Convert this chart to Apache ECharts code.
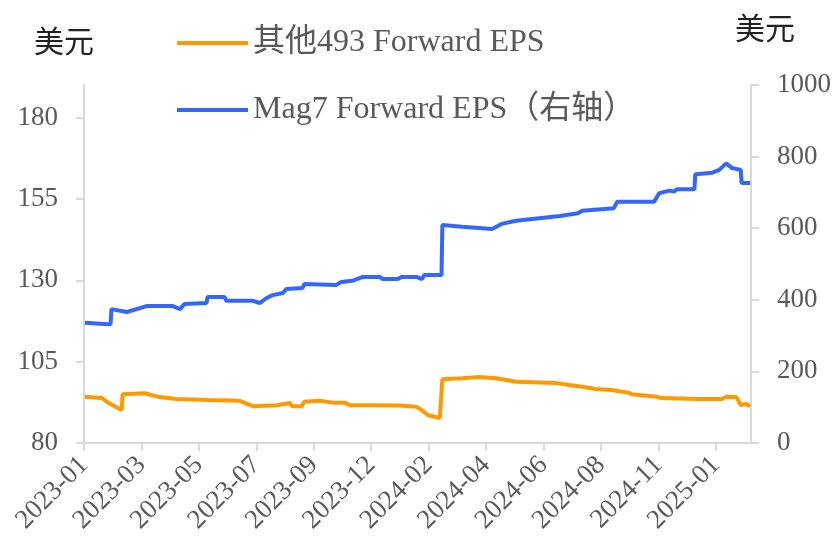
<!DOCTYPE html>
<html>
    <head lang="en"><meta charset="utf-8">
        <title>Forward EPS</title>
        <style>
            html, body { margin: 0; padding: 0; background: #fff; }
            #main { width: 835px; height: 542px; }
        </style>
    </head>
    <body>
        <div id="main"></div>
    </body>
    <script type="text/javascript" src="https://cdn.jsdelivr.net/npm/echarts@6/dist/echarts.min.js"></script>
    <script>
        // 其他493 (左轴)
        var otherDates = ['2023-01-02','2023-01-22','2023-01-28','2023-02-06','2023-02-14','2023-02-15','2023-03-13','2023-03-30',
            '2023-04-19','2023-05-27','2023-07-01','2023-07-17','2023-08-14','2023-08-29','2023-09-01','2023-09-12','2023-09-15',
            '2023-10-03','2023-10-18','2023-11-01','2023-11-07','2023-12-03','2024-01-04','2024-01-16','2024-01-24','2024-01-30',
            '2024-02-06','2024-02-20','2024-02-22','2024-02-23','2024-03-17','2024-04-06','2024-04-26','2024-05-19','2024-07-05',
            '2024-07-20','2024-08-04','2024-08-20','2024-09-07','2024-09-28','2024-10-01','2024-10-30','2024-11-05','2024-12-18',
            '2025-01-14','2025-01-19','2025-01-31','2025-02-05','2025-02-11','2025-02-16'];
        var otherEps = [94.2,93.8,92.6,91.3,90.1,95.0,95.3,94.1,
            93.5,93.2,93.0,91.3,91.6,92.3,91.3,91.3,92.7,
            93.0,92.4,92.4,91.6,91.6,91.5,91.3,91.1,90.1,
            88.6,87.7,87.5,99.6,99.9,100.3,99.9,98.8,98.4,
            97.8,97.3,96.6,96.3,95.4,95.0,94.2,93.8,93.5,
            93.5,94.2,94.1,91.7,92.0,91.3];

        // Mag7 (右轴)
        var magDates = ['2023-01-02','2023-01-29','2023-02-01','2023-02-02','2023-02-20','2023-03-16','2023-04-14','2023-04-23',
            '2023-04-28','2023-05-24','2023-05-25','2023-06-14','2023-06-16','2023-07-17','2023-07-25','2023-08-02','2023-08-09',
            '2023-08-21','2023-08-25','2023-09-13','2023-09-15','2023-10-22','2023-10-28','2023-11-10','2023-11-22','2023-12-12',
            '2023-12-15','2024-01-02','2024-01-07','2024-01-24','2024-01-30','2024-02-02','2024-02-22','2024-02-23','2024-03-17',
            '2024-04-21','2024-05-02','2024-05-19','2024-06-15','2024-07-09','2024-07-30','2024-08-04','2024-09-10','2024-09-14',
            '2024-10-27','2024-11-02','2024-11-14','2024-11-19','2024-11-23','2024-12-13','2024-12-14','2025-01-03','2025-01-11',
            '2025-01-19','2025-01-26','2025-02-05','2025-02-06','2025-02-16'];
        var magEps = [336,332,332,374,366,383,383,374,
            388,391,408,408,397,397,391,405,413,
            419,430,433,444,441,450,453,464,464,
            458,458,464,464,458,469,469,609,604,
            598,612,621,628,634,642,649,656,674,
            674,698,705,702,709,709,751,755,763,
            781,768,763,726,726];

        // x轴标签, 每67天一个
        var xTickLabels = ['2023-01','2023-03','2023-05','2023-07','2023-09','2023-12',
            '2024-02','2024-04','2024-06','2024-08','2024-11','2025-01'];
        var leftTicks = [80, 105, 130, 155, 180];

        var DAY = 86400000;
        var base = Date.UTC(2023, 0, 1);
        function dayOf(s) {
            var p = s.split('-');
            return (Date.UTC(+p[0], +p[1] - 1, +p[2]) - base) / DAY;
        }
        function pairs(dates, vals) {
            return dates.map(function (d, i) { return [dayOf(d), vals[i]]; });
        }

        var font = "'Liberation Serif', 'Noto Sans CJK SC', serif";
        var txt = '#595959';
        var lineGray = '#d9d9d9';

        var myChart = echarts.init(document.getElementById('main'));
        var option = {
            animation: false,
            textStyle: { fontFamily: font },
            grid: { left: 84, right: 84, top: 85, bottom: 99 },
            graphic: [
                { type: 'text', left: 34, top: 29, style: { text: '美元', fontSize: 30, fill: '#222', fontFamily: font } },
                { type: 'text', left: 735, top: 16, style: { text: '美元', fontSize: 30, fill: '#222', fontFamily: font } }
            ],
            legend: {
                orient: 'vertical',
                left: 177,
                top: 27,
                padding: 0,
                itemGap: 35,
                itemWidth: 71,
                itemHeight: 4,
                icon: 'rect',
                textStyle: { fontSize: 32, color: txt, fontFamily: font },
                data: ['其他493 Forward EPS', 'Mag7 Forward EPS（右轴）']
            },
            xAxis: {
                type: 'value',
                min: 0,
                max: 778,
                interval: 67,
                axisLine: { lineStyle: { color: lineGray, width: 2 } },
                axisTick: { show: true, length: 8, lineStyle: { color: lineGray, width: 2 } },
                splitLine: { show: false },
                axisLabel: {
                    rotate: 45,
                    margin: 18,
                    fontSize: 27,
                    color: txt,
                    fontFamily: font,
                    showMaxLabel: false,
                    formatter: function (v) {
                        var i = Math.round(v / 67);
                        return xTickLabels[i] || '';
                    }
                }
            },
            yAxis: [
                {
                    type: 'value',
                    min: 80,
                    max: 190,
                    interval: 25,
                    axisLine: { show: true, lineStyle: { color: lineGray, width: 2 } },
                    axisTick: { show: true, length: 8, customValues: leftTicks, lineStyle: { color: lineGray, width: 2 } },
                    splitLine: { show: false },
                    axisLabel: { margin: 26, fontSize: 27, color: txt, fontFamily: font, customValues: leftTicks }
                },
                {
                    type: 'value',
                    min: 0,
                    max: 1000,
                    interval: 200,
                    position: 'right',
                    axisLine: { show: true, lineStyle: { color: lineGray, width: 2 } },
                    axisTick: { show: true, length: 8, lineStyle: { color: lineGray, width: 2 } },
                    splitLine: { show: false },
                    axisLabel: {
                        margin: 26, fontSize: 27, color: txt, fontFamily: font,
                        formatter: function (v) { return String(v); }
                    }
                }
            ],
            series: [
                {
                    name: '其他493 Forward EPS',
                    type: 'line',
                    yAxisIndex: 0,
                    showSymbol: false,
                    color: '#FF9900',
                    lineStyle: { width: 4, color: '#FF9900' },
                    data: pairs(otherDates, otherEps)
                },
                {
                    name: 'Mag7 Forward EPS（右轴）',
                    type: 'line',
                    yAxisIndex: 1,
                    showSymbol: false,
                    color: '#3366FF',
                    lineStyle: { width: 4, color: '#3366FF' },
                    data: pairs(magDates, magEps)
                }
            ]
        };
        myChart.setOption(option);
    </script>
</html>
